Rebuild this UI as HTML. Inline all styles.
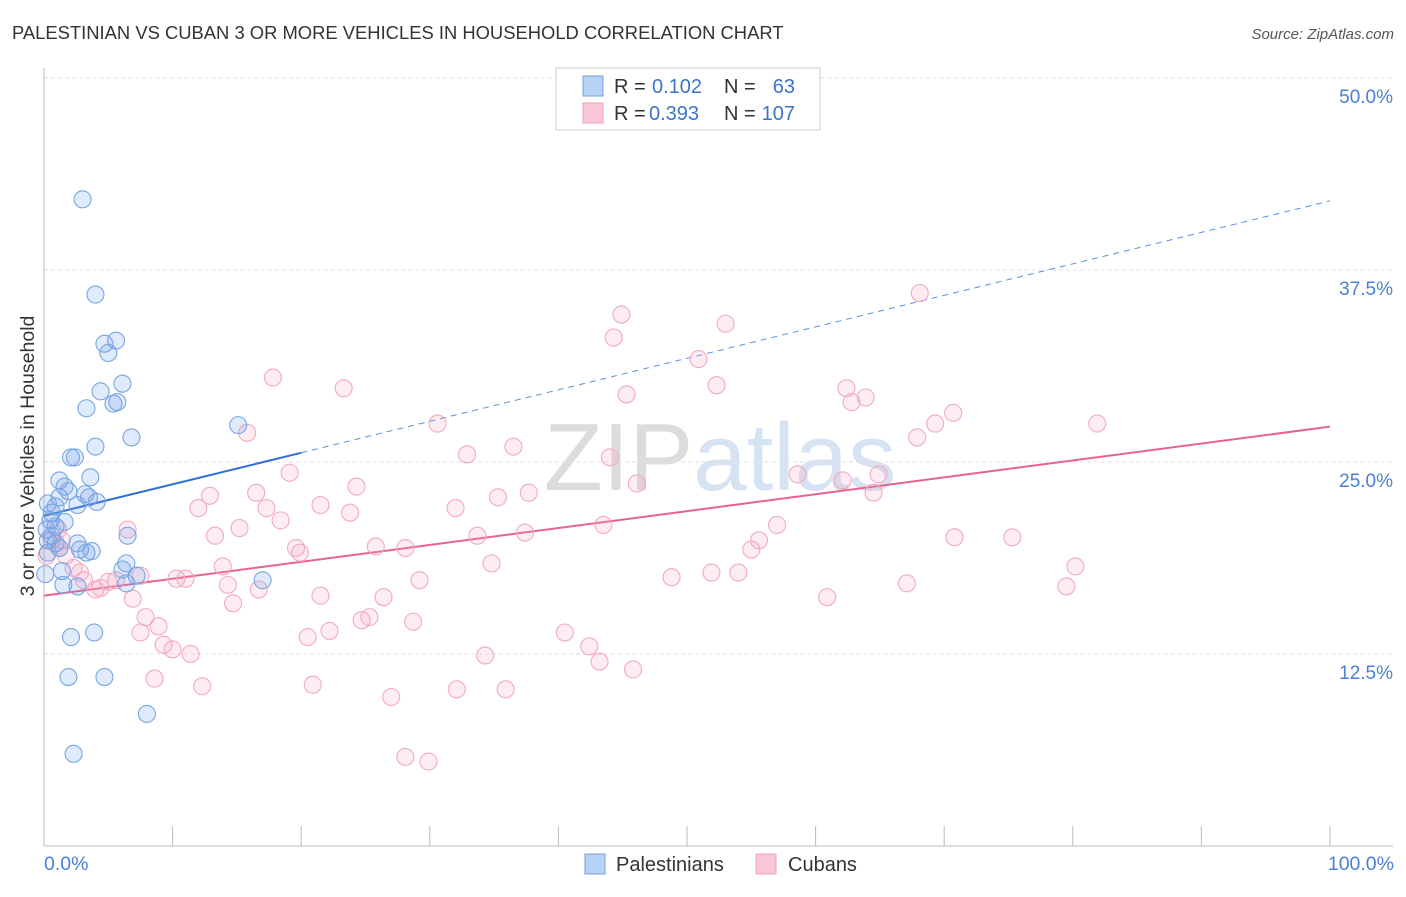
<!DOCTYPE html>
<html><head><meta charset="utf-8"><style>
body{margin:0;background:#fff;font-family:"Liberation Sans",sans-serif}
svg text{font-family:"Liberation Sans",sans-serif}
</style></head><body>
<svg id="chart" width="1406" height="892" viewBox="0 0 1406 892" xmlns="http://www.w3.org/2000/svg">
<text x="12" y="39" font-size="18.4" fill="#333">PALESTINIAN VS CUBAN 3 OR MORE VEHICLES IN HOUSEHOLD CORRELATION CHART</text>
<text x="1394" y="39" font-size="15" fill="#555" text-anchor="end" font-style="italic">Source: ZipAtlas.com</text>
<text x="720" y="490" font-size="96" fill="#e4e4e4" text-anchor="middle" font-family="Liberation Serif"><tspan fill="#dcdcdc">ZIP</tspan><tspan fill="#d6e3f3" font-family="Liberation Sans">atlas</tspan></text>
<g id="grid"></g><g id="axes"></g><g id="lines"></g><g id="pts"></g>
<text transform="translate(34,456) rotate(-90)" font-size="19.5" fill="#333" text-anchor="middle">3 or more Vehicles in Household</text>
<text x="44" y="870" font-size="19.5" fill="#4a7fd4">0.0%</text>
<text x="1394" y="870" font-size="19.5" fill="#4a7fd4" text-anchor="end">100.0%</text>
<g>
<rect x="556" y="68" width="264" height="62" fill="#fff" stroke="#ccc"/>
<rect x="583" y="76" width="20" height="20" fill="#b8d2f5" stroke="#6fa0e0"/>
<rect x="583" y="103" width="20" height="20" fill="#f9c6d6" stroke="#f0a0b8"/>
<text x="614" y="93" font-size="20" fill="#333">R =</text>
<text x="652" y="93" font-size="20" fill="#3a74d0">0.102</text>
<text x="724" y="93" font-size="20" fill="#333">N =</text>
<text x="795" y="93" font-size="20" fill="#3a74d0" text-anchor="end">63</text>
<text x="614" y="120" font-size="20" fill="#333">R =</text>
<text x="649" y="120" font-size="20" fill="#3a74d0">0.393</text>
<text x="724" y="120" font-size="20" fill="#333">N =</text>
<text x="795" y="120" font-size="20" fill="#3a74d0" text-anchor="end">107</text>
</g>
<g>
<rect x="585" y="854" width="20" height="20" fill="#b8d2f5" stroke="#6fa0e0"/>
<text x="616" y="871" font-size="20" fill="#333">Palestinians</text>
<rect x="756" y="854" width="20" height="20" fill="#f9c6d6" stroke="#f0a0b8"/>
<text x="788" y="871" font-size="20" fill="#333">Cubans</text>
</g>
</svg>
<script>
const yTicks=[12.5,25,37.5,50];
const yTickLabels=["12.5%","25.0%","37.5%","50.0%"];
const xTicks=[0,10,20,30,40,50,60,70,80,90,100];
const blueX=[3.0,4.0,4.7,5.6,5.0,6.1,4.4,5.4,5.7,3.3,6.8,4.0,2.1,2.4,1.2,3.6,1.6,1.9,3.2,1.2,3.5,4.1,0.3,2.6,0.9,0.6,0.5,1.6,0.9,0.2,0.6,6.5,15.1,0.9,2.6,1.2,2.8,3.7,3.3,0.3,6.4,1.4,6.1,7.2,0.1,17.0,1.5,2.6,6.4,2.1,3.9,1.9,4.7,8.0,2.3,0.3];
const blueY=[42.1,35.9,32.7,32.9,32.1,30.1,29.6,28.8,28.9,28.5,26.6,26.0,25.3,25.3,23.8,24.0,23.4,23.1,22.9,22.7,22.7,22.4,22.3,22.2,22.1,21.7,21.2,21.1,20.8,20.6,20.2,20.2,27.4,19.7,19.7,19.4,19.3,19.2,19.1,19.1,18.4,17.9,18.0,17.6,17.7,17.3,17.0,16.9,17.1,13.6,13.9,11.0,11.0,8.6,6.0,19.9];
const pinkX=[44.9,44.3,53.0,68.1,50.9,17.8,23.3,52.3,45.3,62.4,63.9,62.8,70.7,69.3,67.9,81.9,30.6,15.8,36.5,32.9,44.0,58.6,64.9,19.1,46.1,62.1,24.3,64.5,16.5,12.9,35.3,37.7,21.5,32.0,12.0,17.3,23.8,18.4,15.2,6.5,43.5,57.0,13.3,33.7,37.4,55.6,70.8,75.3,55.0,19.6,19.9,25.8,28.1,34.8,13.9,80.2,48.8,51.9,54.0,29.2,10.3,11.0,14.3,16.7,67.1,79.5,21.5,26.4,60.9,6.9,14.7,7.9,8.9,24.7,25.3,28.7,7.5,22.2,20.5,40.5,42.4,9.3,10.0,11.4,34.3,43.2,45.8,8.6,12.3,20.9,32.1,35.9,27.0,28.1,29.9,5.0,4.0,3.1,2.8,2.3,1.7,1.2,1.1,1.4,0.6,4.4,5.6,0.2,7.5];
const pinkY=[34.6,33.1,34.0,36.0,31.7,30.5,29.8,30.0,29.4,29.8,29.2,28.9,28.2,27.5,26.6,27.5,27.5,26.9,26.0,25.5,25.3,24.2,24.2,24.3,23.6,23.8,23.4,23.0,23.0,22.8,22.7,23.0,22.2,22.0,22.0,22.0,21.7,21.2,20.7,20.6,20.9,20.9,20.2,20.2,20.4,19.9,20.1,20.1,19.3,19.4,19.1,19.5,19.4,18.4,18.2,18.2,17.5,17.8,17.8,17.3,17.4,17.4,17.0,16.7,17.1,16.9,16.3,16.2,16.2,16.1,15.8,14.9,14.3,14.7,14.9,14.6,13.9,14.0,13.6,13.9,13.0,13.1,12.8,12.5,12.4,12.0,11.5,10.9,10.4,10.5,10.2,10.2,9.7,5.8,5.5,17.2,16.7,17.3,17.8,18.1,18.9,19.4,20.6,19.9,19.9,16.8,17.3,18.9,17.6];
const blueTrend=[21.5,42.0];
const pinkTrend=[16.3,27.3];
const sx=v=>44+v*12.86;
const sy=v=>846-v*15.36;
const NS="http://www.w3.org/2000/svg";
function mk(parent,tag,attrs){const e=document.createElementNS(NS,tag);for(const k in attrs)e.setAttribute(k,attrs[k]);document.getElementById(parent).appendChild(e);return e;}
yTicks.forEach((t,i)=>{
  const l=mk('grid','line',{x1:44,x2:1393,y1:sy(t),y2:sy(t),stroke:'#e2e2e2','stroke-dasharray':'4,3'});
  
  
  const tx=mk('grid','text',{x:1393,y:sy(t)+25,'font-size':19,fill:'#4a7fd4','text-anchor':'end'});
  tx.textContent=yTickLabels[i];
  
  
});
const ax=mk('axes','line',{x1:44,x2:1393,y1:846,y2:846,stroke:'#bbb'});


const ay=mk('axes','line',{x1:44,x2:44,y1:68,y2:846,stroke:'#bbb'});


xTicks.forEach(t=>{
  const l=mk('axes','line',{x1:sx(t),x2:sx(t),y1:826,y2:846,stroke:'#bbb'});
  
  
});
const bs=(blueTrend[1]-blueTrend[0])/100;
const b1=mk('lines','line',{x1:sx(0),y1:sy(blueTrend[0]),x2:sx(20),y2:sy(blueTrend[0]+bs*20),stroke:'#2f6fd6','stroke-width':2});


const b2=mk('lines','line',{x1:sx(20),y1:sy(blueTrend[0]+bs*20),x2:sx(100),y2:sy(blueTrend[1]),stroke:'#5b8fe0','stroke-width':1,'stroke-dasharray':'6,5'});


const p1=mk('lines','line',{x1:sx(0),y1:sy(pinkTrend[0]),x2:sx(100),y2:sy(pinkTrend[1]),stroke:'#e8638f','stroke-width':2});


pinkX.forEach((x,i)=>{
  const c=mk('pts','circle',{cx:sx(x),cy:sy(pinkY[i]),r:8.5,fill:'rgba(244,160,188,0.2)',stroke:'#f2aac0','stroke-width':1.1});
  
  
});
blueX.forEach((x,i)=>{
  const c=mk('pts','circle',{cx:sx(x),cy:sy(blueY[i]),r:8.5,fill:'rgba(110,160,230,0.22)',stroke:'#78a6e2','stroke-width':1.1});
  
  
});
</script>
</body></html>
